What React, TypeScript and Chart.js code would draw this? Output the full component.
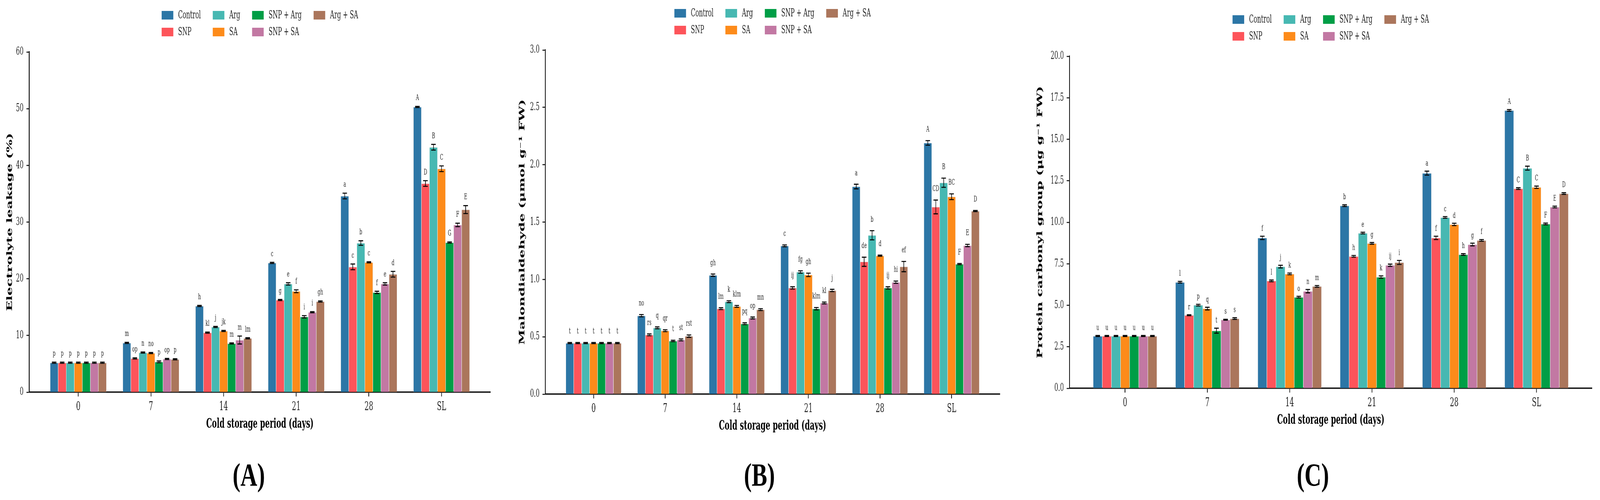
import React, { useEffect, useRef } from 'react';
import { Chart, registerables } from 'chart.js';

Chart.register(...registerables);
Chart.defaults.font.family = '"DejaVu Serif", serif';

// horizontal squish of the whole figure (the reference is horizontally compressed)
const SQUISH = 0.75;
const CANVAS_H = 1140;
const X_AXIS_H = 102.4;
const PAGE_W = 5640;
const PAGE_H = 1280;

const categories = ['0', '7', '14', '21', '28', 'SL'];
const seriesNames = ['Control', 'SNP', 'Arg', 'SA', 'SNP + Arg', 'SNP + SA', 'Arg + SA'];
const seriesColors = ['#2C76A6', '#FD545A', '#47B8B2', '#FD8B1A', '#009E46', '#C278A3', '#AB765C'];

// ---------- (A) Electrolyte leakage (%) ----------
const elControl = [5.2, 8.7, 15.2, 22.8, 34.6, 50.3];
const elSNP = [5.2, 5.96, 10.5, 16.25, 22.1, 36.8];
const elArg = [5.2, 7.0, 11.5, 19.1, 26.3, 43.2];
const elSA = [5.2, 6.9, 10.8, 17.8, 22.9, 39.4];
const elSNPArg = [5.2, 5.35, 8.6, 13.3, 17.6, 26.4];
const elSNPSA = [5.2, 5.85, 9.2, 14.1, 19.1, 29.5];
const elArgSA = [5.2, 5.8, 9.5, 16.0, 20.8, 32.2];

const elControlErr = [0.1, 0.1, 0.1, 0.1, 0.5, 0.1];
const elSNPErr = [0.1, 0.1, 0.1, 0.1, 0.5, 0.5];
const elArgErr = [0.1, 0.1, 0.1, 0.2, 0.4, 0.5];
const elSAErr = [0.1, 0.1, 0.1, 0.25, 0.1, 0.5];
const elSNPArgErr = [0.1, 0.15, 0.1, 0.2, 0.2, 0.1];
const elSNPSAErr = [0.1, 0.1, 0.7, 0.1, 0.2, 0.3];
const elArgSAErr = [0.1, 0.1, 0.1, 0.1, 0.5, 0.7];

const elControlLet = ['p', 'm', 'h', 'c', 'a', 'A'];
const elSNPLet = ['p', 'op', 'kl', 'g', 'c', 'D'];
const elArgLet = ['p', 'n', 'j', 'e', 'b', 'B'];
const elSALet = ['p', 'no', 'jk', 'f', 'c', 'C'];
const elSNPArgLet = ['p', 'p', 'm', 'i', 'f', 'G'];
const elSNPSALet = ['p', 'op', 'm', 'i', 'e', 'F'];
const elArgSALet = ['p', 'p', 'lm', 'gh', 'd', 'E'];

// ---------- (B) Malondialdehyde ----------
const mdaControl = [0.445, 0.684, 1.037, 1.293, 1.81, 2.19];
const mdaSNP = [0.445, 0.517, 0.745, 0.926, 1.154, 1.632];
const mdaArg = [0.445, 0.578, 0.806, 1.065, 1.385, 1.843];
const mdaSA = [0.445, 0.553, 0.765, 1.04, 1.207, 1.721];
const mdaSNPArg = [0.445, 0.464, 0.614, 0.745, 0.926, 1.134];
const mdaSNPSA = [0.445, 0.473, 0.664, 0.795, 0.976, 1.296];
const mdaArgSA = [0.445, 0.506, 0.737, 0.904, 1.112, 1.596];

const mdaControlErr = [0.005, 0.01, 0.01, 0.008, 0.02, 0.02];
const mdaSNPErr = [0.005, 0.008, 0.008, 0.01, 0.04, 0.06];
const mdaArgErr = [0.005, 0.008, 0.008, 0.01, 0.04, 0.04];
const mdaSAErr = [0.005, 0.008, 0.008, 0.015, 0.005, 0.025];
const mdaSNPArgErr = [0.005, 0.006, 0.008, 0.01, 0.01, 0.005];
const mdaSNPSAErr = [0.005, 0.008, 0.008, 0.008, 0.01, 0.01];
const mdaArgSAErr = [0.005, 0.01, 0.008, 0.01, 0.045, 0.005];

const mdaControlLet = ['t', 'no', 'gh', 'c', 'a', 'A'];
const mdaSNPLet = ['t', 'rs', 'lm', 'ij', 'de', 'CD'];
const mdaArgLet = ['t', 'q', 'k', 'fg', 'b', 'B'];
const mdaSALet = ['t', 'qr', 'klm', 'gh', 'd', 'BC'];
const mdaSNPArgLet = ['t', 't', 'pq', 'klm', 'ij', 'F'];
const mdaSNPSALet = ['t', 'st', 'op', 'kl', 'hi', 'E'];
const mdaArgSALet = ['t', 'rst', 'mn', 'j', 'ef', 'D'];

// ---------- (C) Protein carbonyl group ----------
const pcControl = [3.15, 6.39, 9.06, 11.0, 12.96, 16.74];
const pcSNP = [3.15, 4.4, 6.47, 7.95, 9.06, 12.03];
const pcArg = [3.15, 5.01, 7.33, 9.35, 10.29, 13.26];
const pcSA = [3.15, 4.8, 6.89, 8.73, 9.87, 12.11];
const pcSNPArg = [3.15, 3.47, 5.49, 6.7, 8.06, 9.9];
const pcSNPSA = [3.15, 4.13, 5.85, 7.41, 8.66, 10.92];
const pcArgSA = [3.15, 4.2, 6.14, 7.58, 8.91, 11.73];

const pcControlErr = [0.03, 0.05, 0.1, 0.05, 0.12, 0.05];
const pcSNPErr = [0.03, 0.03, 0.05, 0.05, 0.1, 0.05];
const pcArgErr = [0.03, 0.05, 0.08, 0.05, 0.05, 0.12];
const pcSAErr = [0.03, 0.08, 0.05, 0.05, 0.07, 0.07];
const pcSNPArgErr = [0.03, 0.15, 0.05, 0.07, 0.05, 0.05];
const pcSNPSAErr = [0.03, 0.03, 0.1, 0.07, 0.08, 0.05];
const pcArgSAErr = [0.03, 0.05, 0.05, 0.12, 0.05, 0.05];

const pcControlLet = ['u', 'l', 'f', 'b', 'a', 'A'];
const pcSNPLet = ['u', 'r', 'l', 'h', 'f', 'C'];
const pcArgLet = ['u', 'p', 'j', 'e', 'c', 'B'];
const pcSALet = ['u', 'q', 'k', 'g', 'd', 'C'];
const pcSNPArgLet = ['u', 't', 'o', 'k', 'h', 'F'];
const pcSNPSALet = ['u', 's', 'n', 'ij', 'g', 'E'];
const pcArgSALet = ['u', 's', 'm', 'i', 'f', 'D'];

const xTitle = 'Cold storage period (days)';

type PanelCfg = {
  left: number; width: number; axisX: number; plotRight: number;
  top: number; bottom: number; yTitleX: number;
  yMax: number; yStep: number; yDec: number; yTitle: string;
  values: number[][]; errors: number[][]; letters: string[][];
  letterGap: number; tag: string; tagX: number;
};

const panels: PanelCfg[] = [
  {
    left: 0, width: 1790, axisX: 103, plotRight: 1729, top: 133, bottom: 1004, yTitleX: 35,
    yMax: 60, yStep: 10, yDec: 0, yTitle: 'Electrolyte leakage (%)',
    values: [elControl, elSNP, elArg, elSA, elSNPArg, elSNPSA, elArgSA],
    errors: [elControlErr, elSNPErr, elArgErr, elSAErr, elSNPArgErr, elSNPSAErr, elArgSAErr],
    letters: [elControlLet, elSNPLet, elArgLet, elSALet, elSNPArgLet, elSNPSALet, elArgSALet],
    letterGap: 16, tag: '(A)', tagX: 877,
  },
  {
    left: 1790, width: 1840, axisX: 1922, plotRight: 3525, top: 128, bottom: 1009, yTitleX: 1842,
    yMax: 3, yStep: 0.5, yDec: 1, yTitle: 'Malondialdehyde (\u03bcmol g\u207b\u00b9 FW)',
    values: [mdaControl, mdaSNP, mdaArg, mdaSA, mdaSNPArg, mdaSNPSA, mdaArgSA],
    errors: [mdaControlErr, mdaSNPErr, mdaArgErr, mdaSAErr, mdaSNPArgErr, mdaSNPSAErr, mdaArgSAErr],
    letters: [mdaControlLet, mdaSNPLet, mdaArgLet, mdaSALet, mdaSNPArgLet, mdaSNPSALet, mdaArgSALet],
    letterGap: 23, tag: '(B)', tagX: 2677,
  },
  {
    left: 3630, width: 2010, axisX: 3770, plotRight: 5612, top: 144, bottom: 994, yTitleX: 3667,
    yMax: 20, yStep: 2.5, yDec: 1, yTitle: 'Protein carbonyl group (\u03bcg g\u207b\u00b9 FW)',
    values: [pcControl, pcSNP, pcArg, pcSA, pcSNPArg, pcSNPSA, pcArgSA],
    errors: [pcControlErr, pcSNPErr, pcArgErr, pcSAErr, pcSNPArgErr, pcSNPSAErr, pcArgSAErr],
    letters: [pcControlLet, pcSNPLet, pcArgLet, pcSALet, pcSNPArgLet, pcSNPSALet, pcArgSALet],
    letterGap: 14, tag: '(C)', tagX: 4628,
  },
];

const errorLetters = {
  id: 'errorLetters',
  afterDatasetsDraw(chart: any, _args: any, opts: any) {
    const { ctx } = chart;
    const yS = chart.scales.y;
    ctx.save();
    chart.data.datasets.forEach((_ds: any, di: number) => {
      const meta = chart.getDatasetMeta(di);
      meta.data.forEach((bar: any, i: number) => {
        const v = opts.values[di][i];
        const e = opts.errors[di][i];
        const yt = yS.getPixelForValue(v + e);
        const yb = yS.getPixelForValue(v - e);
        const x = bar.x;
        const half = 8 / SQUISH;
        ctx.strokeStyle = '#000';
        ctx.lineWidth = 2 / SQUISH;
        ctx.beginPath();
        ctx.moveTo(x, yt);
        ctx.lineTo(x, yb);
        ctx.stroke();
        ctx.lineWidth = 2.6;
        ctx.beginPath();
        ctx.moveTo(x - half, yt);
        ctx.lineTo(x + half, yt);
        ctx.moveTo(x - half, yb);
        ctx.lineTo(x + half, yb);
        ctx.stroke();
        ctx.fillStyle = '#222';
        ctx.font = '20px "DejaVu Serif"';
        ctx.textAlign = 'center';
        ctx.textBaseline = 'alphabetic';
        ctx.fillText(opts.letters[di][i], x, yt - opts.gap);
      });
    });
    ctx.restore();
  },
};

const columnLegend = {
  id: 'columnLegend',
  afterDraw(chart: any) {
    const { ctx, chartArea } = chart;
    const ds = chart.data.datasets;
    const cols = [[0, 1], [2, 3], [4, 5], [6]];
    ctx.save();
    ctx.font = '28px "DejaVu Serif"';
    const boxW = 41 / SQUISH;
    const gap = 17 / SQUISH;
    const colSp = 42 / SQUISH;
    const boxH = 22;
    const colW = cols.map((c) => boxW + gap + Math.max(...c.map((i) => ctx.measureText(ds[i].label).width)));
    const total = colW.reduce((a, b) => a + b, 0) + colSp * (cols.length - 1);
    let x = (chartArea.left + chartArea.right) / 2 - total / 2;
    const rows = [chartArea.top - 94, chartArea.top - 51];
    cols.forEach((c, ci) => {
      c.forEach((idx, ri) => {
        const yc = rows[ri];
        ctx.fillStyle = ds[idx].backgroundColor;
        ctx.fillRect(x, yc - boxH / 2, boxW, boxH);
        ctx.fillStyle = '#222';
        ctx.textAlign = 'left';
        ctx.textBaseline = 'middle';
        ctx.fillText(ds[idx].label, x + boxW + gap, yc + 1);
      });
      x += colW[ci] + colSp;
    });
    ctx.restore();
  },
};

function Panel({ cfg }: { cfg: PanelCfg }) {
  const ref = useRef<HTMLCanvasElement>(null);
  const wPre = cfg.width / SQUISH;
  useEffect(() => {
    if (!ref.current) return;
    const axisPre = (cfg.axisX - cfg.left) / SQUISH;
    const padRight = (cfg.left + cfg.width - cfg.plotRight) / SQUISH;
    const yTitlePre = (cfg.yTitleX - cfg.left) / SQUISH;
    const chart = new Chart(ref.current, {
      type: 'bar',
      data: {
        datasets: seriesNames.map((name, si) => ({
          label: name,
          data: cfg.values[si].map((v, i) => ({ x: i, y: v })),
          backgroundColor: seriesColors[si],
          borderColor: 'rgba(190,190,190,0.55)',
          borderWidth: 1,
          categoryPercentage: 0.775,
          barPercentage: 1.0,
        })),
      },
      options: {
        animation: false,
        responsive: false,
        devicePixelRatio: 1,
        layout: {
          padding: { left: 0, right: padRight, top: cfg.top, bottom: CANVAS_H - cfg.bottom - X_AXIS_H },
        },
        plugins: {
          legend: { display: false },
          tooltip: { enabled: false },
          errorLetters: { values: cfg.values, errors: cfg.errors, letters: cfg.letters, gap: cfg.letterGap },
        } as any,
        scales: {
          x: {
            type: 'linear',
            min: -0.675,
            max: 5.675,
            offset: false,
            z: 1,
            afterBuildTicks: (s: any) => {
              s.ticks = categories.map((_, i) => ({ value: i }));
            },
            afterFit: (s: any) => {
              s.height = X_AXIS_H;
            },
            ticks: {
              callback: (v: any) => categories[v] ?? '',
              font: { size: 32 },
              color: '#222',
              padding: 7,
              autoSkip: false,
              maxRotation: 0,
            },
            grid: {
              display: true,
              offset: false,
              drawOnChartArea: false,
              drawTicks: true,
              tickLength: 11,
              tickWidth: 2.5 / SQUISH,
              tickColor: '#111',
            },
            border: { display: true, color: '#111', width: 3.5 },
            title: {
              display: true,
              text: xTitle,
              font: { size: 34, weight: 'bold' },
              color: '#000',
              padding: { top: 0, bottom: 0 },
            },
          },
          y: {
            type: 'linear',
            min: 0,
            max: cfg.yMax,
            z: 1,
            afterFit: (s: any) => {
              s.width = axisPre;
            },
            ticks: {
              stepSize: cfg.yStep,
              callback: (v: any) => Number(v).toFixed(cfg.yDec),
              font: { size: 28 },
              color: '#222',
              padding: 10 / SQUISH,
            },
            grid: {
              display: true,
              drawOnChartArea: false,
              drawTicks: true,
              tickLength: 10 / SQUISH,
              tickWidth: 2.5,
              tickColor: '#111',
            },
            border: { display: true, color: '#111', width: 3 / SQUISH },
            title: {
              display: true,
              text: cfg.yTitle,
              font: { size: 35, weight: 'bold' },
              color: '#000',
              padding: { top: yTitlePre - 21, bottom: 0 },
            },
          },
        },
      } as any,
      plugins: [errorLetters, columnLegend],
    });
    return () => chart.destroy();
  }, []);
  return (
    <div
      style={{
        position: 'absolute',
        left: cfg.left,
        top: 0,
        width: wPre,
        height: CANVAS_H,
        transform: `scaleX(${SQUISH})`,
        transformOrigin: '0 0',
      }}
    >
      <canvas ref={ref} width={wPre} height={CANVAS_H} style={{ display: 'block', width: wPre, height: CANVAS_H }} />
    </div>
  );
}

export default function App() {
  const vw = typeof window !== 'undefined' ? window.innerWidth : PAGE_W;
  const vh = typeof window !== 'undefined' ? window.innerHeight : PAGE_H;
  const fitX = Math.min(1, vw / PAGE_W);
  const fitY = Math.min(1, vh / PAGE_H);
  return (
    <div
      style={{
        position: 'absolute',
        left: 0,
        top: 0,
        width: PAGE_W,
        height: PAGE_H,
        background: '#fff',
        overflow: 'hidden',
        transform: `scale(${fitX}, ${fitY})`,
        transformOrigin: '0 0',
      }}
    >
      {panels.map((p) => (
        <Panel key={p.tag} cfg={p} />
      ))}
      {panels.map((p) => (
        <div
          key={'t' + p.tag}
          style={{
            position: 'absolute',
            left: p.tagX - 150,
            top: 1175,
            width: 300,
            textAlign: 'center',
            fontFamily: '"Liberation Serif", "Times New Roman", serif',
            fontWeight: 'bold',
            fontSize: 82,
            lineHeight: '82px',
            color: '#000',
          }}
        >
          {p.tag}
        </div>
      ))}
    </div>
  );
}
